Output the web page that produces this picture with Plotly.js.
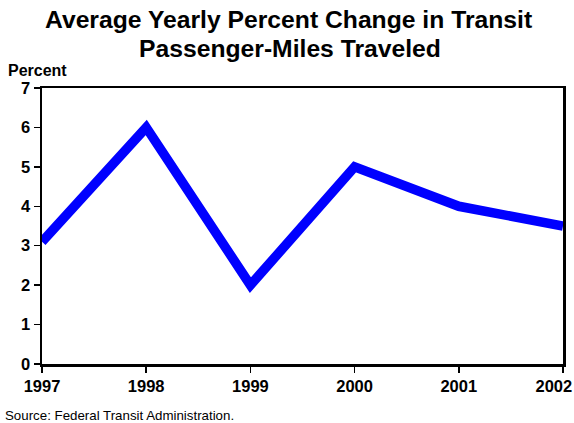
<!DOCTYPE html>
<html>
<head>
<meta charset="utf-8">
<script src="https://cdn.plot.ly/plotly-3.0.1.min.js"></script>
<style>html,body{margin:0;padding:0;background:#fff;}#chart{width:574px;height:423px;}</style>
</head>
<body>
<div id="chart"></div>
<script>
const years = [1997, 1998, 1999, 2000, 2001, 2002];
const percentChange = [3.1, 6.0, 2.0, 5.0, 4.0, 3.5];
const yTicks = [0, 1, 2, 3, 4, 5, 6, 7];
const titleLines = ['Average Yearly Percent Change in Transit', 'Passenger-Miles Traveled'];
const yUnitLabel = 'Percent';
const sourceNote = 'Source: Federal Transit Administration.';

const FONT = 'Liberation Sans, Arial, sans-serif';
const NB = '\u00a0';

const trace = {
  x: years,
  y: percentChange,
  type: 'scatter',
  mode: 'lines',
  line: {color: '#0000ff', width: 9.5},
  hoverinfo: 'skip'
};

// last label is nudged left so it fits inside the page, as in the reference
const xTickText = years.map((y, i) => '<b>' + y + '</b>' + (i === years.length - 1 ? NB.repeat(4) : ''));

const layout = {
  width: 574,
  height: 423,
  margin: {l: 42, r: 11, t: 88, b: 59},
  paper_bgcolor: '#fff',
  plot_bgcolor: '#fff',
  showlegend: false,
  font: {family: FONT, color: '#000'},
  xaxis: {
    range: [1997, 2002],
    tickvals: years,
    ticktext: xTickText,
    ticklabeloverflow: 'allow',
    ticks: 'outside', ticklen: 6, tickwidth: 1.5, tickcolor: '#000',
    showline: true, linewidth: 2.5, linecolor: '#000', mirror: true,
    showgrid: false, zeroline: false,
    tickfont: {size: 16.5, family: FONT}
  },
  yaxis: {
    range: [0, 7],
    tickvals: yTicks,
    ticktext: yTicks.map(v => '<b>' + v + '</b>'),
    ticks: 'outside', ticklen: 6, tickwidth: 1.5, tickcolor: '#000',
    showline: true, linewidth: 2.5, linecolor: '#000', mirror: true,
    showgrid: false, zeroline: false,
    tickfont: {size: 16.5, family: FONT}
  },
  annotations: [
    {text: '<b>' + titleLines[0] + '</b>', xref: 'paper', yref: 'paper', x: (288.5 - 42) / 521, y: 1.2464,
     xanchor: 'center', yanchor: 'middle', showarrow: false, font: {size: 24.7, family: FONT}},
    {text: '<b>' + titleLines[1] + '</b>', xref: 'paper', yref: 'paper', x: (289.5 - 42) / 521, y: 1.1431,
     xanchor: 'center', yanchor: 'middle', showarrow: false, font: {size: 24.7, family: FONT}},
    {text: '<b>' + yUnitLabel + '</b>', xref: 'paper', yref: 'paper', x: -0.069, y: 1.0616,
     xanchor: 'left', yanchor: 'middle', showarrow: false, font: {size: 16, family: FONT}},
    {text: sourceNote, xref: 'paper', yref: 'paper', x: -0.0749, y: -0.1884,
     xanchor: 'left', yanchor: 'middle', showarrow: false, font: {size: 13.3, family: FONT}}
  ]
};

Plotly.newPlot('chart', [trace], layout, {displayModeBar: false, staticPlot: true});
</script>
</body>
</html>
